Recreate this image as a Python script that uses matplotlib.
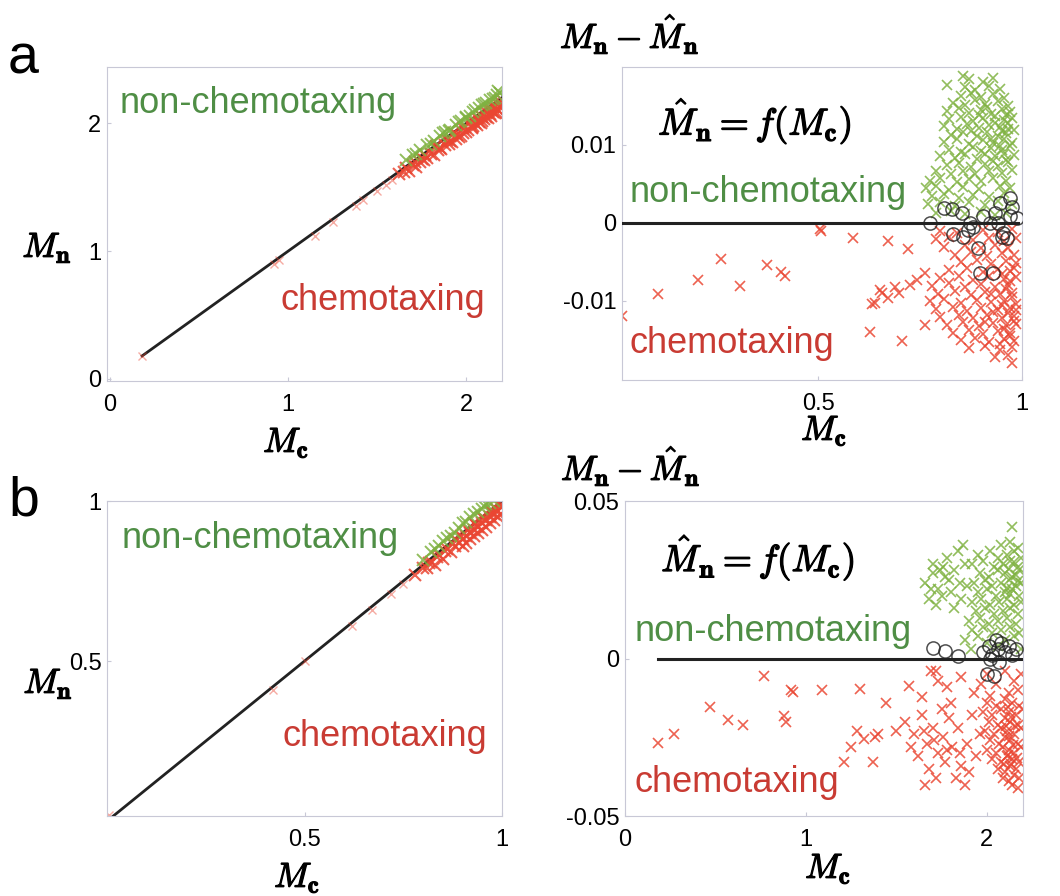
import numpy as np
import matplotlib.pyplot as plt
import matplotlib.patheffects as pe

plt.rcParams['font.family'] = ['Liberation Sans', 'DejaVu Sans']
plt.rcParams['mathtext.fontset'] = 'cm'

W, H = 1060, 896

# ---------------- data ----------------
# fitted curve ranges (identity fit M_n = f(M_c))
fit_a = np.array([0.18, 2.2])
fit_b = np.array([0.01, 1.0])
resid_fit_a = np.array([0.02, 0.99])
resid_fit_b = np.array([0.18, 2.2])

# panel a, left: (M_c, M_n)
a_green = [(1.66, 1.71), (1.70, 1.75), (1.74, 1.79), (1.78, 1.83), (1.82, 1.86), (1.85, 1.90),
           (1.88, 1.93), (1.91, 1.95), (1.94, 1.99), (1.97, 2.02), (2.00, 2.05), (2.02, 2.06),
           (2.05, 2.10), (2.07, 2.12), (2.09, 2.14), (2.11, 2.16), (2.13, 2.18), (2.15, 2.19),
           (2.17, 2.22), (2.19, 2.24), (1.80, 1.84), (1.90, 1.94), (2.00, 2.04), (2.10, 2.15),
           (2.16, 2.20), (2.18, 2.25), (1.72, 1.76), (1.87, 1.92), (1.96, 2.01), (2.04, 2.09)]
a_red_tail = [(0.18, 0.18), (0.92, 0.90), (0.95, 0.93), (1.15, 1.12), (1.25, 1.23), (1.38, 1.35),
              (1.42, 1.40), (1.50, 1.47), (1.55, 1.52), (1.58, 1.56)]
a_red = [(1.62, 1.60), (1.65, 1.62), (1.68, 1.63), (1.70, 1.67), (1.72, 1.66), (1.74, 1.70),
         (1.76, 1.71), (1.78, 1.73), (1.80, 1.76), (1.82, 1.75), (1.84, 1.79), (1.86, 1.80),
         (1.88, 1.83), (1.90, 1.84), (1.92, 1.85), (1.94, 1.88), (1.96, 1.89), (1.98, 1.92),
         (2.00, 1.93), (2.01, 1.95), (2.03, 1.96), (2.04, 1.98), (2.06, 1.99), (2.07, 2.01),
         (2.08, 2.00), (2.10, 2.03), (2.11, 2.05), (2.12, 2.04), (2.13, 2.07), (2.14, 2.06),
         (2.15, 2.09), (2.16, 2.08), (2.17, 2.11), (2.18, 2.10), (2.19, 2.13), (2.20, 2.14),
         (1.75, 1.72), (1.85, 1.81), (1.95, 1.91), (2.05, 2.00), (2.09, 2.05), (2.14, 2.10),
         (2.18, 2.15), (1.98, 1.96), (2.06, 2.04), (2.12, 2.11), (2.20, 2.18),
         (1.66, 1.65), (1.71, 1.70), (1.77, 1.75), (1.83, 1.82), (1.89, 1.87), (1.93, 1.92),
         (1.99, 1.97), (2.02, 2.01), (2.08, 2.06), (2.11, 2.09), (2.15, 2.13), (2.19, 2.17),
         (1.91, 1.86), (1.97, 1.90), (2.03, 1.97), (2.09, 2.02), (2.17, 2.08)]

# panel a, right: (M_c, M_n - f(M_c))
ar_green = [
    (0.816, 0.0177), (0.856, 0.0188), (0.87, 0.0184), (0.905, 0.0181), (0.93, 0.0186),
    (0.86, 0.0174), (0.885, 0.0171), (0.92, 0.0176), (0.945, 0.0172),
    (0.85, 0.0163), (0.875, 0.0167), (0.90, 0.0161), (0.93, 0.0165), (0.955, 0.0160),
    (0.83, 0.0154), (0.86, 0.0151), (0.885, 0.0157), (0.91, 0.0152), (0.94, 0.0156), (0.965, 0.0150),
    (0.815, 0.0143), (0.845, 0.0147), (0.87, 0.0141), (0.90, 0.0145), (0.925, 0.0140), (0.95, 0.0146), (0.97, 0.0142),
    (0.82, 0.0133), (0.85, 0.0136), (0.88, 0.0131), (0.905, 0.0134), (0.935, 0.0137), (0.955, 0.0132), (0.975, 0.0135),
    (0.81, 0.0124), (0.84, 0.0121), (0.865, 0.0127), (0.895, 0.0122), (0.92, 0.0126), (0.945, 0.0123), (0.965, 0.0128),
    (0.825, 0.0113), (0.855, 0.0117), (0.89, 0.0112), (0.915, 0.0116), (0.94, 0.0111), (0.96, 0.0115), (0.98, 0.0119),
    (0.81, 0.0104), (0.84, 0.0107), (0.87, 0.0101), (0.905, 0.0106), (0.93, 0.0102), (0.955, 0.0108), (0.975, 0.0103),
    (0.82, 0.0094), (0.85, 0.0091), (0.88, 0.0097), (0.90, 0.0092), (0.925, 0.0096), (0.95, 0.0093), (0.97, 0.0098),
    (0.80, 0.0086), (0.835, 0.0083), (0.86, 0.0088), (0.89, 0.0082), (0.935, 0.0086), (0.96, 0.0081), (0.98, 0.0087),
    (0.815, 0.0074), (0.845, 0.0077), (0.875, 0.0072), (0.91, 0.0076), (0.94, 0.0073), (0.965, 0.0078),
    (0.79, 0.0066), (0.825, 0.0063), (0.855, 0.0067), (0.885, 0.0062), (0.92, 0.0066), (0.95, 0.0064), (0.975, 0.0068),
    (0.775, 0.0054), (0.80, 0.0057), (0.84, 0.0052), (0.87, 0.0056), (0.90, 0.0053), (0.93, 0.0058), (0.96, 0.0054),
    (0.765, 0.0044), (0.79, 0.0047), (0.82, 0.0042), (0.855, 0.0046), (0.895, 0.0043), (0.945, 0.0047), (0.97, 0.0044),
    (0.78, 0.0034), (0.81, 0.0037), (0.845, 0.0032), (0.88, 0.0036), (0.92, 0.0033), (0.955, 0.0038),
    (0.77, 0.0024), (0.80, 0.0027), (0.835, 0.0022), (0.87, 0.0026), (0.91, 0.0023), (0.94, 0.0028), (0.975, 0.0024),
    (0.79, 0.0012), (0.825, 0.0015), (0.86, 0.0011), (0.90, 0.0014), (0.935, 0.0010), (0.96, 0.0013),
    # denser core on the right
    (0.915, 0.0148), (0.935, 0.0128), (0.95, 0.0118), (0.96, 0.0138), (0.925, 0.0108), (0.945, 0.0098),
    (0.965, 0.0120), (0.91, 0.0088), (0.93, 0.0079), (0.955, 0.0088), (0.895, 0.0138), (0.875, 0.0118),
]
ar_red = [
    (0.02, -0.0120), (0.108, -0.0092), (0.206, -0.0074), (0.262, -0.0047), (0.309, -0.0081),
    (0.375, -0.0054), (0.41, -0.0063), (0.42, -0.0069), (0.505, -0.0008), (0.508, -0.0010),
    (0.586, -0.0019), (0.672, -0.0023), (0.72, -0.0034), (0.633, -0.0105), (0.64, -0.0103),
    (0.652, -0.0086), (0.657, -0.0090), (0.672, -0.0097), (0.688, -0.0082), (0.698, -0.0090),
    (0.725, -0.0080), (0.742, -0.0073), (0.762, -0.0065), (0.627, -0.0140), (0.705, -0.0152),
    (0.762, -0.0131),
    (0.80, -0.0011), (0.84, -0.0013), (0.905, -0.0009), (0.94, -0.0012), (0.975, -0.0008),
    (0.79, -0.0021), (0.82, -0.0018), (0.88, -0.0022), (0.92, -0.0019), (0.955, -0.0023), (0.985, -0.0020),
    (0.81, -0.0031), (0.86, -0.0028), (0.90, -0.0033), (0.935, -0.0029), (0.965, -0.0032),
    (0.835, -0.0041), (0.875, -0.0038), (0.915, -0.0043), (0.95, -0.0039), (0.98, -0.0042),
    (0.85, -0.0051), (0.89, -0.0048), (0.925, -0.0053), (0.96, -0.0049), (0.985, -0.0052),
    (0.82, -0.0061), (0.865, -0.0058), (0.905, -0.0063), (0.94, -0.0059), (0.97, -0.0062),
    (0.80, -0.0071), (0.845, -0.0068), (0.88, -0.0073), (0.92, -0.0069), (0.955, -0.0072), (0.985, -0.0070),
    (0.78, -0.0081), (0.82, -0.0078), (0.86, -0.0083), (0.90, -0.0079), (0.935, -0.0082), (0.965, -0.0080),
    (0.795, -0.0091), (0.835, -0.0088), (0.875, -0.0093), (0.91, -0.0089), (0.945, -0.0092), (0.975, -0.0090),
    (0.775, -0.0101), (0.81, -0.0098), (0.85, -0.0103), (0.89, -0.0099), (0.925, -0.0102), (0.955, -0.0100), (0.985, -0.0104),
    (0.79, -0.0111), (0.83, -0.0108), (0.865, -0.0113), (0.90, -0.0109), (0.94, -0.0112), (0.97, -0.0110),
    (0.80, -0.0121), (0.845, -0.0118), (0.88, -0.0123), (0.915, -0.0119), (0.95, -0.0122), (0.98, -0.0120),
    (0.815, -0.0131), (0.855, -0.0128), (0.895, -0.0133), (0.93, -0.0129), (0.96, -0.0132), (0.985, -0.0130),
    (0.83, -0.0141), (0.87, -0.0138), (0.905, -0.0143), (0.94, -0.0139), (0.97, -0.0142),
    (0.85, -0.0151), (0.885, -0.0148), (0.92, -0.0153), (0.955, -0.0149), (0.98, -0.0152),
    (0.87, -0.0161), (0.91, -0.0158), (0.945, -0.0163), (0.975, -0.0160),
    (0.935, -0.0172), (0.965, -0.0170), (0.975, -0.0180),
    # denser core on the right
    (0.96, -0.0085), (0.975, -0.0095), (0.95, -0.0106), (0.965, -0.0116), (0.98, -0.0126),
    (0.955, -0.0136), (0.97, -0.0146), (0.945, -0.0156), (0.985, -0.0112), (0.93, -0.0115),
    (0.91, -0.0128), (0.925, -0.0092), (0.97, -0.0075), (0.95, -0.0066), (0.98, -0.0058),
]
ar_circ = [(0.775, 0.0), (0.81, 0.0019), (0.828, 0.0017), (0.853, 0.0013), (0.831, -0.0015),
           (0.856, -0.0018), (0.873, 0.0), (0.88, -0.0005), (0.868, -0.0009), (0.892, -0.0032),
           (0.904, 0.0008), (0.934, 0.0013), (0.946, 0.0025), (0.971, 0.0032), (0.975, 0.0020),
           (0.988, 0.0006), (0.97, 0.0008), (0.953, -0.0013), (0.963, -0.0020), (0.951, -0.0018),
           (0.922, 0.0), (0.941, 0.0), (0.897, -0.0065), (0.929, -0.0065)]

# panel b, left: (M_c, M_n)
b_green = [(0.80, 0.815), (0.82, 0.84), (0.83, 0.85), (0.85, 0.875), (0.86, 0.885), (0.87, 0.89),
           (0.88, 0.90), (0.89, 0.915), (0.90, 0.93), (0.91, 0.935), (0.92, 0.95), (0.93, 0.96),
           (0.94, 0.965), (0.95, 0.975), (0.96, 0.99), (0.97, 0.995), (0.98, 1.0), (0.84, 0.86),
           (0.955, 0.985)]
b_red_tail = [(0.005, 0.02), (0.42, 0.41), (0.50, 0.50), (0.62, 0.61), (0.67, 0.66), (0.72, 0.71),
              (0.75, 0.74)]
b_red = [(0.78, 0.77), (0.80, 0.79), (0.81, 0.79), (0.82, 0.81), (0.83, 0.80),
         (0.84, 0.83), (0.85, 0.82), (0.86, 0.85), (0.87, 0.84), (0.88, 0.86), (0.89, 0.87),
         (0.90, 0.88), (0.91, 0.89), (0.92, 0.90), (0.93, 0.91), (0.94, 0.92), (0.95, 0.93),
         (0.96, 0.94), (0.97, 0.95), (0.98, 0.96), (0.99, 0.97), (1.0, 0.98), (0.90, 0.86),
         (0.92, 0.88), (0.94, 0.90), (0.96, 0.92), (0.98, 0.94), (0.995, 0.955), (0.95, 0.95),
         (0.97, 0.97), (0.99, 0.99), (0.93, 0.93), (0.88, 0.88), (0.985, 0.975),
         (0.815, 0.805), (0.835, 0.825), (0.855, 0.845), (0.875, 0.865), (0.895, 0.89),
         (0.915, 0.91), (0.935, 0.925), (0.955, 0.945), (0.975, 0.965), (0.995, 0.985),
         (0.91, 0.87), (0.93, 0.89), (0.95, 0.91), (0.97, 0.93), (0.99, 0.95)]

# panel b, right: (M_c, M_n - f(M_c))
br_green = [
    (1.66, 0.024), (1.70, 0.027), (1.73, 0.022), (1.68, 0.019), (1.76, 0.029), (1.79, 0.025),
    (1.72, 0.017), (1.75, 0.020), (1.82, 0.028), (1.80, 0.021), (1.85, 0.024), (1.78, 0.032),
    (1.84, 0.034), (1.88, 0.030), (1.70, 0.030), (1.82, 0.016), (1.86, 0.019), (1.89, 0.023),
    (2.14, 0.0417), (1.87, 0.036), (1.69, 0.022), (1.77, 0.026), (1.74, 0.028),
    (2.08, 0.036), (2.13, 0.037), (2.17, 0.035),
    (1.95, 0.033), (2.02, 0.034), (2.06, 0.032), (2.11, 0.033), (2.15, 0.034), (2.19, 0.032),
    (1.92, 0.030), (1.98, 0.031), (2.04, 0.029), (2.09, 0.030), (2.13, 0.031), (2.17, 0.029),
    (1.96, 0.027), (2.01, 0.026), (2.06, 0.028), (2.10, 0.027), (2.14, 0.026), (2.18, 0.028),
    (1.93, 0.024), (1.99, 0.025), (2.03, 0.023), (2.08, 0.024), (2.12, 0.025), (2.16, 0.023), (2.19, 0.024),
    (1.95, 0.021), (2.00, 0.022), (2.05, 0.020), (2.10, 0.021), (2.14, 0.022), (2.18, 0.020),
    (1.92, 0.018), (1.97, 0.019), (2.02, 0.017), (2.07, 0.018), (2.11, 0.019), (2.15, 0.017), (2.19, 0.018),
    (1.94, 0.015), (1.99, 0.016), (2.04, 0.014), (2.09, 0.015), (2.13, 0.016), (2.17, 0.014),
    (1.90, 0.012), (1.96, 0.013), (2.01, 0.011), (2.06, 0.012), (2.11, 0.013), (2.16, 0.011),
    (1.92, 0.009), (1.98, 0.010), (2.03, 0.008), (2.08, 0.009), (2.13, 0.010), (2.18, 0.008),
    (1.88, 0.006), (1.95, 0.007), (2.00, 0.005), (2.10, 0.006), (2.15, 0.007),
    (1.91, 0.003), (2.06, 0.004), (2.19, 0.003),
    (2.12, 0.0285), (2.16, 0.0265), (2.15, 0.0305), (2.11, 0.0225), (2.17, 0.0245), (2.13, 0.0205),
]
br_red = [
    (0.18, -0.0268), (0.27, -0.0239), (0.47, -0.0153), (0.57, -0.0194), (0.65, -0.0210),
    (0.77, -0.0057), (0.88, -0.0181), (0.89, -0.0200), (0.92, -0.0099), (0.93, -0.0105),
    (1.09, -0.0099), (1.30, -0.0096), (1.44, -0.0140), (1.57, -0.0086), (1.64, -0.0121),
    (1.69, -0.0041), (1.73, -0.0073), (1.21, -0.0330), (1.25, -0.0280), (1.28, -0.0230),
    (1.32, -0.0255), (1.38, -0.0250), (1.40, -0.0240), (1.37, -0.0330), (1.50, -0.0230),
    (1.72, -0.004), (1.78, -0.009), (1.86, -0.006), (1.93, -0.011), (2.00, -0.005),
    (2.05, -0.008), (2.10, -0.004), (2.15, -0.007), (2.19, -0.005), (2.02, -0.012),
    (2.12, -0.011), (2.17, -0.010), (1.97, -0.008),
    (1.55, -0.020), (1.60, -0.024), (1.64, -0.018), (1.67, -0.027), (1.70, -0.022),
    (1.73, -0.030), (1.76, -0.025), (1.79, -0.019), (1.62, -0.031), (1.68, -0.035),
    (1.72, -0.038), (1.77, -0.033), (1.81, -0.028), (1.84, -0.022), (1.86, -0.034),
    (1.89, -0.027), (1.92, -0.018), (1.75, -0.016), (1.83, -0.038), (1.88, -0.040),
    (1.94, -0.031), (1.58, -0.028), (1.66, -0.040), (1.80, -0.014), (1.90, -0.036),
    (1.96, -0.024), (1.71, -0.026), (1.78, -0.029), (1.85, -0.030), (1.65, -0.023),
    (2.00, -0.014), (2.05, -0.015), (2.10, -0.013), (2.14, -0.014), (2.18, -0.015),
    (1.98, -0.017), (2.03, -0.018), (2.08, -0.016), (2.12, -0.017), (2.16, -0.018), (2.20, -0.016),
    (2.01, -0.020), (2.06, -0.021), (2.10, -0.019), (2.13, -0.020), (2.17, -0.021),
    (1.99, -0.023), (2.04, -0.024), (2.08, -0.022), (2.11, -0.023), (2.15, -0.024), (2.19, -0.022),
    (2.02, -0.026), (2.07, -0.027), (2.10, -0.025), (2.13, -0.026), (2.17, -0.027),
    (2.00, -0.029), (2.05, -0.030), (2.09, -0.028), (2.12, -0.029), (2.15, -0.030), (2.19, -0.028),
    (2.03, -0.032), (2.08, -0.033), (2.11, -0.031), (2.14, -0.032), (2.18, -0.033),
    (2.06, -0.035), (2.10, -0.036), (2.13, -0.034), (2.16, -0.035),
    (2.09, -0.038), (2.12, -0.039), (2.15, -0.037), (2.18, -0.038),
    (2.14, -0.040), (2.17, -0.041),
    (2.115, -0.0155), (2.135, -0.0185), (2.125, -0.0245), (2.145, -0.0275), (2.115, -0.0305),
    (2.135, -0.0335), (2.155, -0.0215), (2.095, -0.0335), (2.165, -0.0315), (2.105, -0.0215),
]
br_circ = [(1.70, 0.0032), (1.77, 0.0025), (1.84, 0.0007), (1.98, 0.002), (2.01, 0.004),
           (2.03, 0.001), (2.05, 0.006), (2.06, 0.003), (2.08, 0.005), (2.10, 0.002),
           (2.12, 0.004), (2.14, 0.001), (2.16, 0.003), (2.00, -0.0048), (2.04, -0.0057),
           (2.02, 0.0), (2.07, -0.001)]

GREEN = '#7fb241'
RED = '#ea4632'
GREEN_TXT = '#4f8e45'
RED_TXT = '#c93b33'
SPINE = '#c8c8d6'
BOLD = [pe.withStroke(linewidth=0.9, foreground='black')]


def px_axes(fig, l, t, r, b):
    return fig.add_axes([l / W, 1 - b / H, (r - l) / W, (b - t) / H])


def ftext(fig, x, y, s, **kw):
    fig.text(x / W, 1 - y / H, s, **kw)


def style(ax, xt, yt, xl, yl, xlab=None, ylab=None):
    ax.set_xlim(xl)
    ax.set_ylim(yl)
    ax.set_xticks(xt)
    ax.set_yticks(yt)
    if xlab is not None:
        ax.set_xticklabels(xlab)
    if ylab is not None:
        ax.set_yticklabels(ylab)
    for s in ax.spines.values():
        s.set_color(SPINE)
        s.set_linewidth(0.8)
    ax.tick_params(direction='in', length=3, color=SPINE, labelsize=17)
    ax.tick_params(axis='x', pad=9)
    ax.tick_params(axis='y', pad=4)


def scatter(ax, pts, color, ms=7.8, mew=1.2, alpha=0.85):
    p = np.array(pts).T
    ax.plot(p[0], p[1], 'x', color=color, ms=ms, mew=mew, alpha=alpha, zorder=2)


def circles(ax, pts):
    p = np.array(pts).T
    ax.plot(p[0], p[1], 'o', mfc='none', mec='#222222', ms=9.5, mew=1.1, alpha=0.8, zorder=4)


fig = plt.figure(figsize=(W / 100, H / 100), dpi=100)

txt = dict(fontsize=26, va='baseline', ha='left')
formula = r'$\hat{M}_{\mathbf{n}} = f(M_{\mathbf{c}})$'

# a, left
ax = px_axes(fig, 107, 67, 502, 381)
ax.plot(fit_a, fit_a, color='#222222', lw=2, zorder=1)
scatter(ax, a_red_tail, RED, ms=6, mew=1.0, alpha=0.45)
scatter(ax, a_red, RED, ms=9, mew=1.5)
scatter(ax, a_green, GREEN, ms=8, mew=1.4)
style(ax, [0, 1, 2], [0, 1, 2], (-0.017, 2.2), (-0.016, 2.44))
ax.text(0.056, 2.08, 'non-chemotaxing', color=GREEN_TXT, **txt)
ax.text(0.955, 0.54, 'chemotaxing', color=RED_TXT, **txt)

# a, right
ax = px_axes(fig, 622, 67, 1022, 380)
scatter(ax, ar_green, GREEN)
scatter(ax, ar_red, RED)
ax.plot(resid_fit_a, [0, 0], color='#222222', lw=2.2, zorder=3)
circles(ax, ar_circ)
style(ax, [0.5, 1], [-0.01, 0, 0.01], (0.0196, 1.0), (-0.0202, 0.02),
      ['0.5', '1'], ['-0.01', '0', '0.01'])
ax.text(0.039, 0.0027, 'non-chemotaxing', color=GREEN_TXT, **txt)
ax.text(0.039, -0.0167, 'chemotaxing', color=RED_TXT, **txt)
ax.text(0.108, 0.0113, formula, fontsize=27, va='baseline', ha='left', path_effects=BOLD)

# b, left
ax = px_axes(fig, 107, 501, 502, 816)
ax.plot(fit_b, fit_b, color='#222222', lw=2, zorder=1)
scatter(ax, b_red_tail, RED, ms=6, mew=1.0, alpha=0.45)
scatter(ax, b_red, RED, ms=9, mew=1.5)
scatter(ax, b_green, GREEN, ms=8, mew=1.4)
style(ax, [0.5, 1], [0.5, 1], (0.0, 1.0), (0.016, 1.0), ['0.5', '1'], ['0.5', '1'])
ax.text(0.038, 0.853, 'non-chemotaxing', color=GREEN_TXT, **txt)
ax.text(0.444, 0.234, 'chemotaxing', color=RED_TXT, **txt)

# b, right
ax = px_axes(fig, 625, 501, 1023, 816)
scatter(ax, br_green, GREEN)
scatter(ax, br_red, RED)
ax.plot(resid_fit_b, [0, 0], color='#222222', lw=2.2, zorder=3)
circles(ax, br_circ)
style(ax, [0, 1, 2], [-0.05, 0, 0.05], (0.01, 2.2), (-0.05, 0.05),
      ['0', '1', '2'], ['-0.05', '0', '0.05'])
ax.text(0.055, 0.0057, 'non-chemotaxing', color=GREEN_TXT, **txt)
ax.text(0.055, -0.0424, 'chemotaxing', color=RED_TXT, **txt)
ax.text(0.2, 0.0277, formula, fontsize=27, va='baseline', ha='left', path_effects=BOLD)

# axis labels and panel letters
mlab = dict(fontsize=25, va='baseline', ha='center', path_effects=BOLD)
mn = r'$M_{\mathbf{n}}$'
mc = r'$M_{\mathbf{c}}$'
resid = r'$M_{\mathbf{n}} - \hat{M}_{\mathbf{n}}$'
ftext(fig, 47, 257, mn, **mlab)
ftext(fig, 48, 693, mn, **mlab)
ftext(fig, 286, 452, mc, **mlab)
ftext(fig, 824, 440, mc, **mlab)
ftext(fig, 297, 887, mc, **mlab)
ftext(fig, 828, 878, mc, **mlab)
ftext(fig, 560, 48, resid, fontsize=25, va='baseline', ha='left', path_effects=BOLD)
ftext(fig, 561, 480, resid, fontsize=25, va='baseline', ha='left', path_effects=BOLD)
ftext(fig, 8, 73, 'a', fontsize=40, va='baseline', ha='left')
ftext(fig, 8, 515, 'b', fontsize=40, va='baseline', ha='left')

fig.savefig('out.png', dpi=100)
